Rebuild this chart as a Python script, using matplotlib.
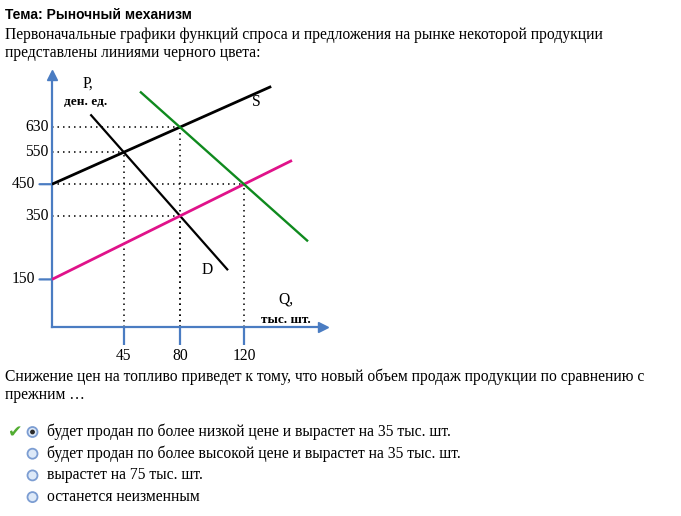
import matplotlib.pyplot as plt
from matplotlib.patches import Circle

# data
q_ticks = [45, 80, 120]
p_ticks = [150, 350, 450, 550, 630]
p_with_mark = [150, 450]

# lines (end points): S, D - initial (black), S2 - pink, D2 - green
s_q, s_p = [0, 137], [450, 758]
d_q, d_p = [24, 110], [670, 179]
s2_q, s2_p = [0, 150], [150, 525]
d2_q, d2_p = [55, 160], [742, 270]

# guide points (dotted lines)
eq_q = [45, 80, 80, 120]
eq_p = [550, 630, 350, 450]

title = "Тема: Рыночный механизм"
intro = ["Первоначальные графики функций спроса и предложения на рынке некоторой продукции",
         "представлены линиями черного цвета:"]
question = ["Снижение цен на топливо приведет к тому, что новый объем продаж продукции по сравнению с",
            "прежним …"]
options = ["будет продан по более низкой цене и вырастет на 35 тыс. шт.",
           "будет продан по более высокой цене и вырастет на 35 тыс. шт.",
           "вырастет на 75 тыс. шт.",
           "останется неизменным"]

BLUE = "#4a7cc2"
SERIF = "Liberation Serif"
FS = 11.25

W, H = 681, 516
fig = plt.figure(figsize=(W / 100, H / 100), dpi=100)

# background layer in pixel coords for the question text
bg = fig.add_axes([0, 0, 1, 1])
bg.set_xlim(0, W)
bg.set_ylim(H, 0)
bg.axis("off")

bg.text(5, 15, title, fontsize=10, fontweight="bold", family="Liberation Sans",
        va="center", ha="left")
for i, line in enumerate(intro):
    bg.text(5, 35 + i * 18, line, fontsize=FS, family=SERIF, va="center", ha="left")
for i, line in enumerate(question):
    bg.text(5, 377 + i * 18, line, fontsize=FS, family=SERIF, va="center", ha="left")

for i, opt in enumerate(options):
    y = 432 + i * 21.7
    bg.add_patch(Circle((32.5, y), 5, facecolor="#dde9f8", edgecolor="#7c9dd2", lw=1.3))
    if i == 0:
        bg.add_patch(Circle((32.5, y), 1.7, color="#2a2a2a"))
        bg.text(15.5, y, "✔", fontsize=12.5, color="#52ad32", family="DejaVu Sans",
                va="center", ha="center")
    bg.text(47, y, opt, fontsize=FS, family=SERIF, va="center", ha="left")

# chart
x0, y0, x1, y1 = 52, 327, 323, 75
ax = fig.add_axes([x0 / W, 1 - y0 / H, (x1 - x0) / W, (y0 - y1) / H])
ax.patch.set_alpha(0)
ax.set_xlim(0, (x1 - x0) / 1.6)
ax.set_ylim(0, (y0 - y1) / 0.3173)

for side in ["top", "right"]:
    ax.spines[side].set_visible(False)
for side in ["left", "bottom"]:
    ax.spines[side].set_color(BLUE)
    ax.spines[side].set_linewidth(1.6)
ax.plot(1, 0, ">", color=BLUE, ms=7, transform=ax.transAxes, clip_on=False)
ax.plot(0, 1, "^", color=BLUE, ms=7, transform=ax.transAxes, clip_on=False)

ax.set_xticks(q_ticks)
ax.set_xticklabels([str(q) for q in q_ticks], family=SERIF, fontsize=FS)
ax.tick_params(axis="x", direction="out", length=13, width=1.6, color=BLUE, pad=2)
ax.set_yticks([])

for p in p_ticks:
    if p in p_with_mark:
        ax.annotate("", xy=(0, p), xytext=(-9, 0), textcoords="offset points",
                    arrowprops=dict(arrowstyle="-", color=BLUE, lw=1.6,
                                    shrinkA=0, shrinkB=0))
        off = -12
    else:
        off = -2.5
    ax.annotate(str(p), xy=(0, p), xytext=(off, 0), textcoords="offset points",
                ha="right", va="center", family=SERIF, fontsize=FS)

# dotted guides
for q, p in zip(eq_q, eq_p):
    ax.plot([0, q], [p, p], color="black", lw=1.1, ls=(0, (1, 2.6)), zorder=1)
    ax.plot([q, q], [0, p], color="black", lw=1.1, ls=(0, (1, 2.6)), zorder=1)

ax.plot(s_q, s_p, color="black", lw=2.0, solid_capstyle="butt", zorder=3)
ax.plot(d_q, d_p, color="black", lw=1.6, solid_capstyle="butt", zorder=3)
ax.plot(s2_q, s2_p, color="#e0128a", lw=2.0, solid_capstyle="butt", zorder=3)
ax.plot(d2_q, d2_p, color="#0f8a1e", lw=1.7, solid_capstyle="butt", zorder=3)

ax.text(22.5, 767, "P,", family=SERIF, fontsize=FS, ha="center", va="center")
ax.text(21, 709, "ден. ед.", family=SERIF, fontsize=9.5, fontweight="bold",
        ha="center", va="center")
ax.text(127.5, 709, "S", family=SERIF, fontsize=FS, ha="center", va="center")
ax.text(97, 180, "D", family=SERIF, fontsize=FS, ha="center", va="center")
ax.text(146, 88, "Q,", family=SERIF, fontsize=FS, ha="center", va="center")
ax.text(146, 22, "тыс. шт.", family=SERIF, fontsize=9.5, fontweight="bold",
        ha="center", va="center", clip_on=False)

fig.savefig("out.png", dpi=100)
